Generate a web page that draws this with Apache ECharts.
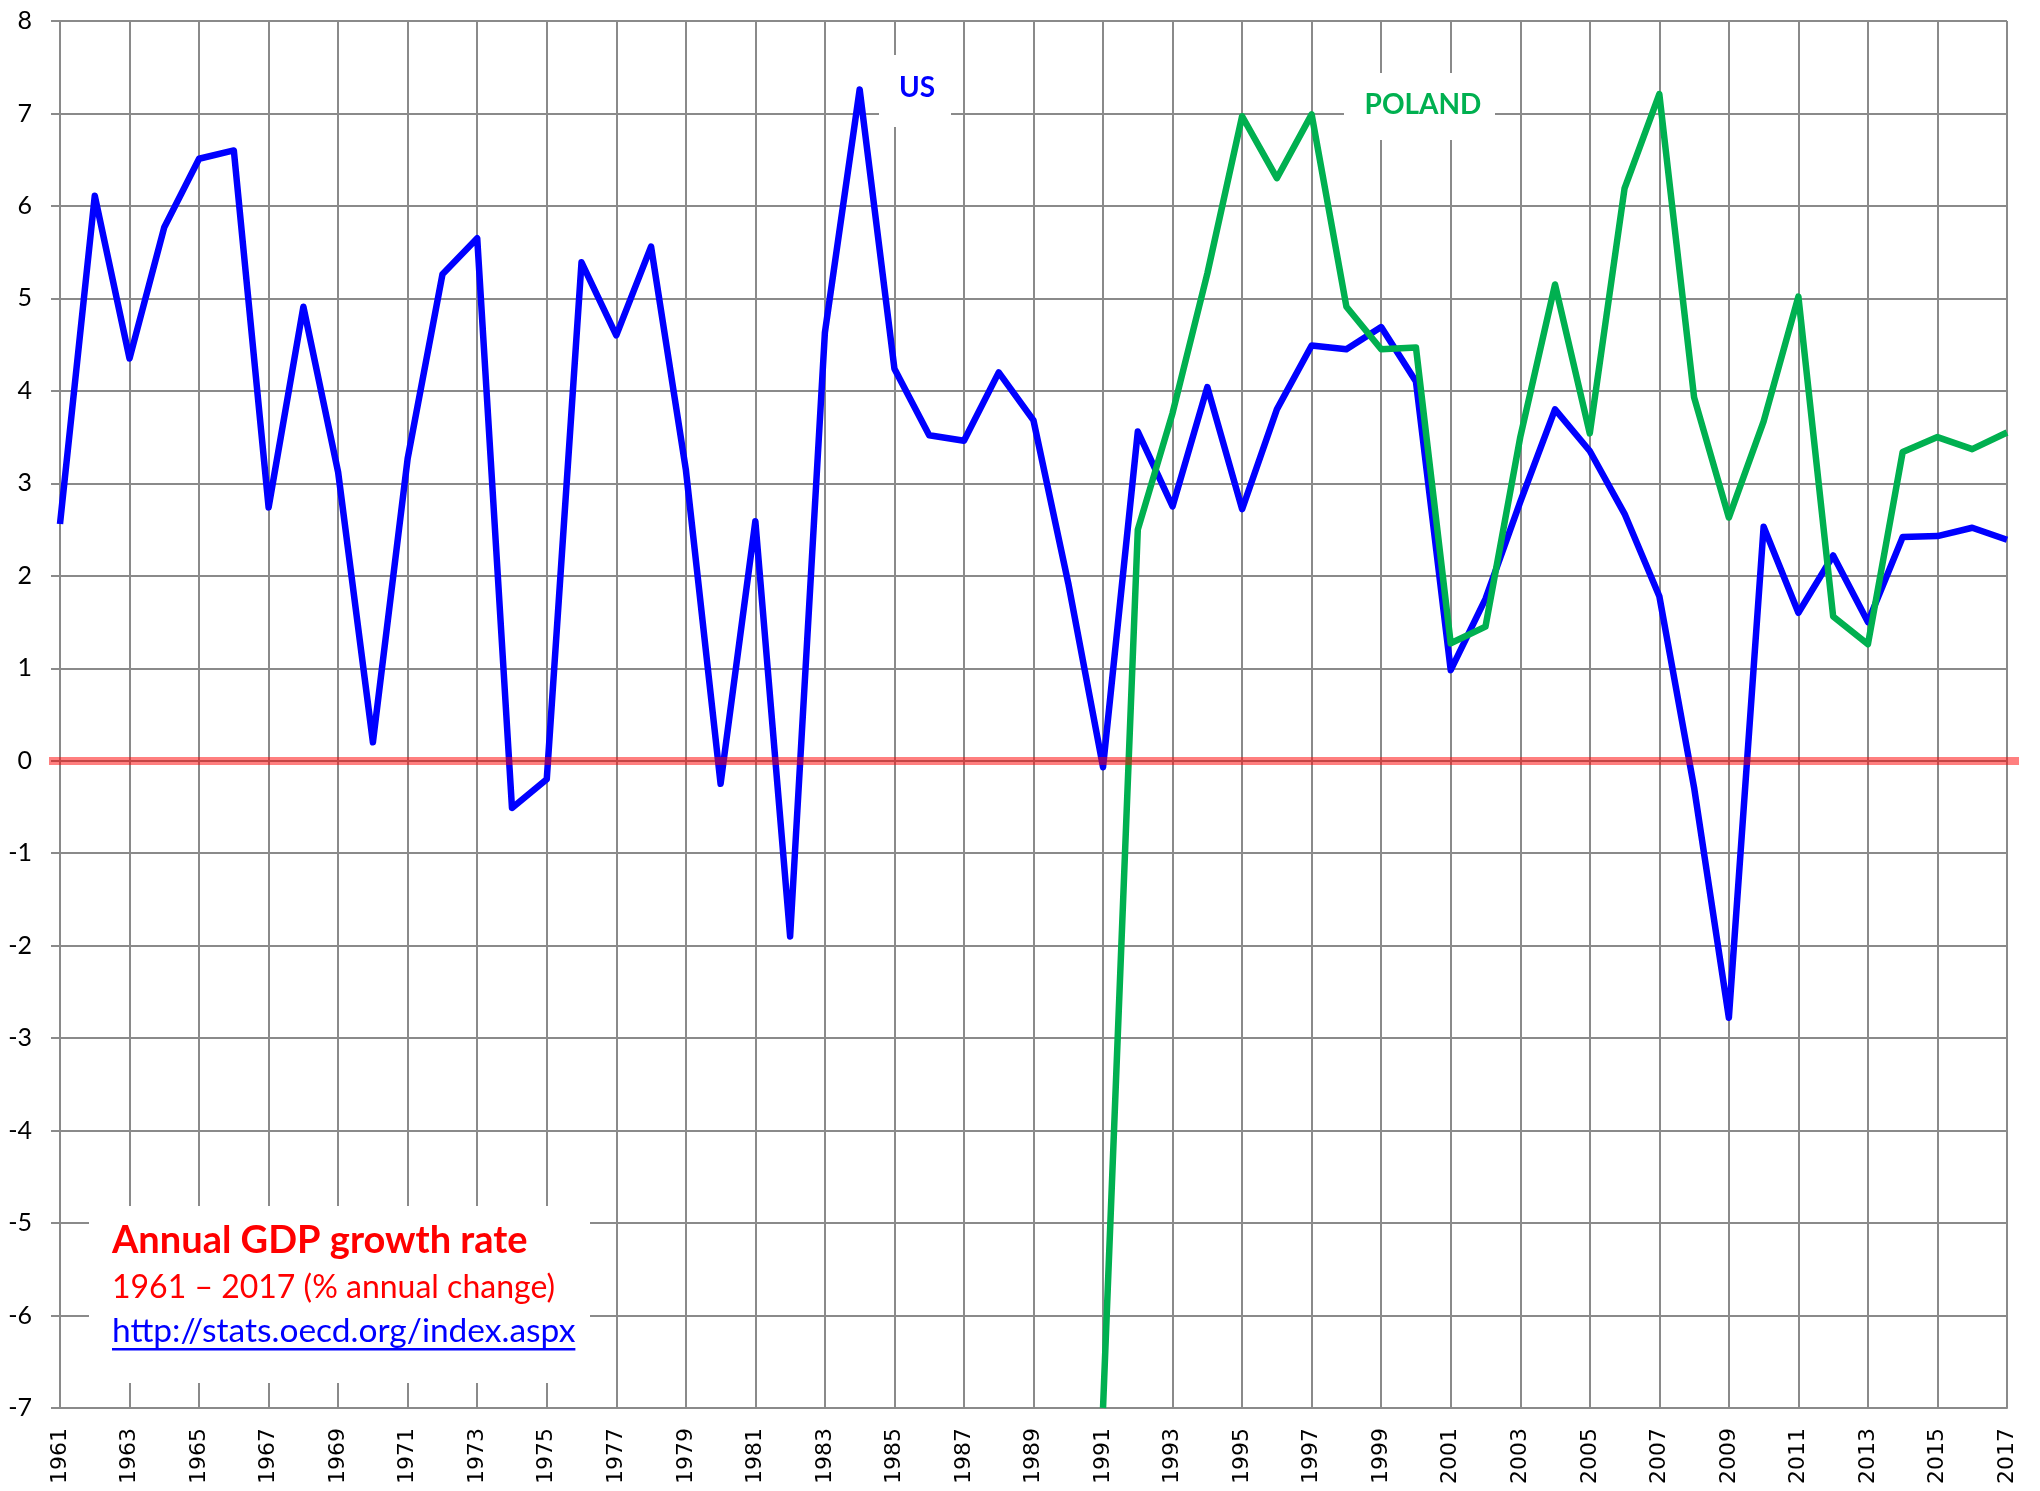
<!DOCTYPE html>
<html>
<head>
<meta charset="utf-8">
<script src="https://cdn.jsdelivr.net/npm/echarts@6/dist/echarts.min.js"></script>
<style>
  html, body { margin: 0; padding: 0; background: #fff; }
  #chart { width: 2040px; height: 1491px; }
</style>
</head>
<body>
<div id="chart"></div>
<script>
// years on the x axis
const years = [
  '1961','1962','1963','1964','1965','1966','1967','1968','1969','1970',
  '1971','1972','1973','1974','1975','1976','1977','1978','1979','1980',
  '1981','1982','1983','1984','1985','1986','1987','1988','1989','1990',
  '1991','1992','1993','1994','1995','1996','1997','1998','1999','2000',
  '2001','2002','2003','2004','2005','2006','2007','2008','2009','2010',
  '2011','2012','2013','2014','2015','2016','2017'
];

// annual GDP growth, %
const usGrowth = [
  2.56, 6.11, 4.35, 5.77, 6.51, 6.60, 2.74, 4.91, 3.12, 0.20,
  3.27, 5.26, 5.65, -0.51, -0.20, 5.39, 4.60, 5.56, 3.15, -0.25,
  2.59, -1.90, 4.63, 7.26, 4.24, 3.52, 3.46, 4.20, 3.68, 1.92,
  -0.07, 3.56, 2.75, 4.04, 2.72, 3.80, 4.49, 4.45, 4.69, 4.10,
  0.98, 1.75, 2.80, 3.80, 3.35, 2.67, 1.78, -0.29, -2.78, 2.53,
  1.60, 2.22, 1.50, 2.42, 2.43, 2.52, 2.39
];

const polandGrowth = [
  null, null, null, null, null, null, null, null, null, null,
  null, null, null, null, null, null, null, null, null, null,
  null, null, null, null, null, null, null, null, null, null,
  -7.00, 2.50, 3.76, 5.27, 6.97, 6.30, 6.99, 4.91, 4.45, 4.47,
  1.27, 1.45, 3.50, 5.15, 3.54, 6.19, 7.21, 3.93, 2.63, 3.67,
  5.02, 1.56, 1.26, 3.34, 3.50, 3.37, 3.55
];

const gridColor = '#8a8a8a';
const linkText = 'http://stats.oecd.org/index.aspx';
const linkFont = '33.5px Lato';

// width of the link text, for the underline
const ctx = document.createElement('canvas').getContext('2d');
ctx.font = linkFont;
const linkWidth = ctx.measureText(linkText).width;

const chart = echarts.init(document.getElementById('chart'), null, { renderer: 'canvas' });

const option = {
  animation: false,
  backgroundColor: '#fff',
  grid: { left: 60, right: 33, top: 21, bottom: 83, outerBoundsMode: 'none' },
  xAxis: {
    type: 'category',
    data: years,
    boundaryGap: false,
    axisLine: { show: true, onZero: false, lineStyle: { color: gridColor, width: 2 } },
    axisTick: { show: false },
    axisLabel: {
      interval: 1,
      rotate: 90,
      margin: 20,
      fontFamily: 'DejaVu Sans',
      fontSize: 22,
      color: '#000'
    },
    splitLine: { show: true, interval: 1, lineStyle: { color: gridColor, width: 2 } }
  },
  yAxis: {
    type: 'value',
    min: -7,
    max: 8,
    interval: 1,
    axisLine: { show: true, lineStyle: { color: gridColor, width: 2 } },
    axisTick: { show: true, length: 9, lineStyle: { color: gridColor, width: 2 } },
    axisLabel: { margin: 28, fontFamily: 'Lato', fontSize: 25, color: '#000' },
    splitLine: { show: true, lineStyle: { color: gridColor, width: 2 } }
  },
  series: [
    {
      name: 'US',
      type: 'line',
      data: usGrowth,
      symbol: 'none',
      z: 3,
      lineStyle: { color: '#0000ff', width: 6.5, join: 'round' }
    },
    {
      name: 'POLAND',
      type: 'line',
      data: polandGrowth,
      symbol: 'none',
      connectNulls: false,
      z: 4,
      lineStyle: { color: '#00b050', width: 6.5, join: 'round' }
    },
    {
      // zero reference line, drawn on top of the data lines
      name: 'zero',
      type: 'line',
      data: [],
      z: 10,
      markLine: {
        silent: true,
        symbol: ['none', 'none'],
        label: { show: false },
        lineStyle: { color: 'rgba(255,0,0,0.5)', width: 8, type: 'solid' },
        emphasis: { disabled: true },
        data: [[{ x: 49, yAxis: 0 }, { x: 2019, yAxis: 0 }]]
      }
    }
  ],
  graphic: [
    { type: 'rect', z: 1, shape: { x: 879, y: 55, width: 72, height: 72 }, style: { fill: '#fff' } },
    { type: 'text', z: 2, style: { x: 917, y: 88, text: 'US', font: 'bold 28px Lato', fill: '#0000ff',
      align: 'center', verticalAlign: 'middle', textAlign: 'center', textVerticalAlign: 'middle' } },
    { type: 'rect', z: 1, shape: { x: 1344, y: 73, width: 151, height: 67 }, style: { fill: '#fff' } },
    { type: 'text', z: 2, style: { x: 1423, y: 105, text: 'POLAND', font: 'bold 28px Lato', fill: '#00b050',
      align: 'center', verticalAlign: 'middle', textAlign: 'center', textVerticalAlign: 'middle' } },
    { type: 'rect', z: 1, shape: { x: 89, y: 1206, width: 501, height: 177 }, style: { fill: '#fff' } },
    { type: 'text', z: 2, style: { x: 112, y: 1241, text: 'Annual GDP growth rate', font: 'bold 38px Lato', fill: '#ff0000',
      align: 'left', verticalAlign: 'middle', textAlign: 'left', textVerticalAlign: 'middle' } },
    { type: 'text', z: 2, style: { x: 112, y: 1288, text: '1961 – 2017 (% annual change)', font: '32px Lato', fill: '#ff0000',
      align: 'left', verticalAlign: 'middle', textAlign: 'left', textVerticalAlign: 'middle' } },
    { type: 'text', z: 2, style: { x: 112, y: 1331, text: linkText, font: linkFont, fill: '#0000ff',
      align: 'left', verticalAlign: 'middle', textAlign: 'left', textVerticalAlign: 'middle' } },
    { type: 'rect', z: 2, shape: { x: 112, y: 1348, width: linkWidth, height: 2.5 }, style: { fill: '#0000ff' } }
  ]
};

chart.setOption(option);
</script>
</body>
</html>
